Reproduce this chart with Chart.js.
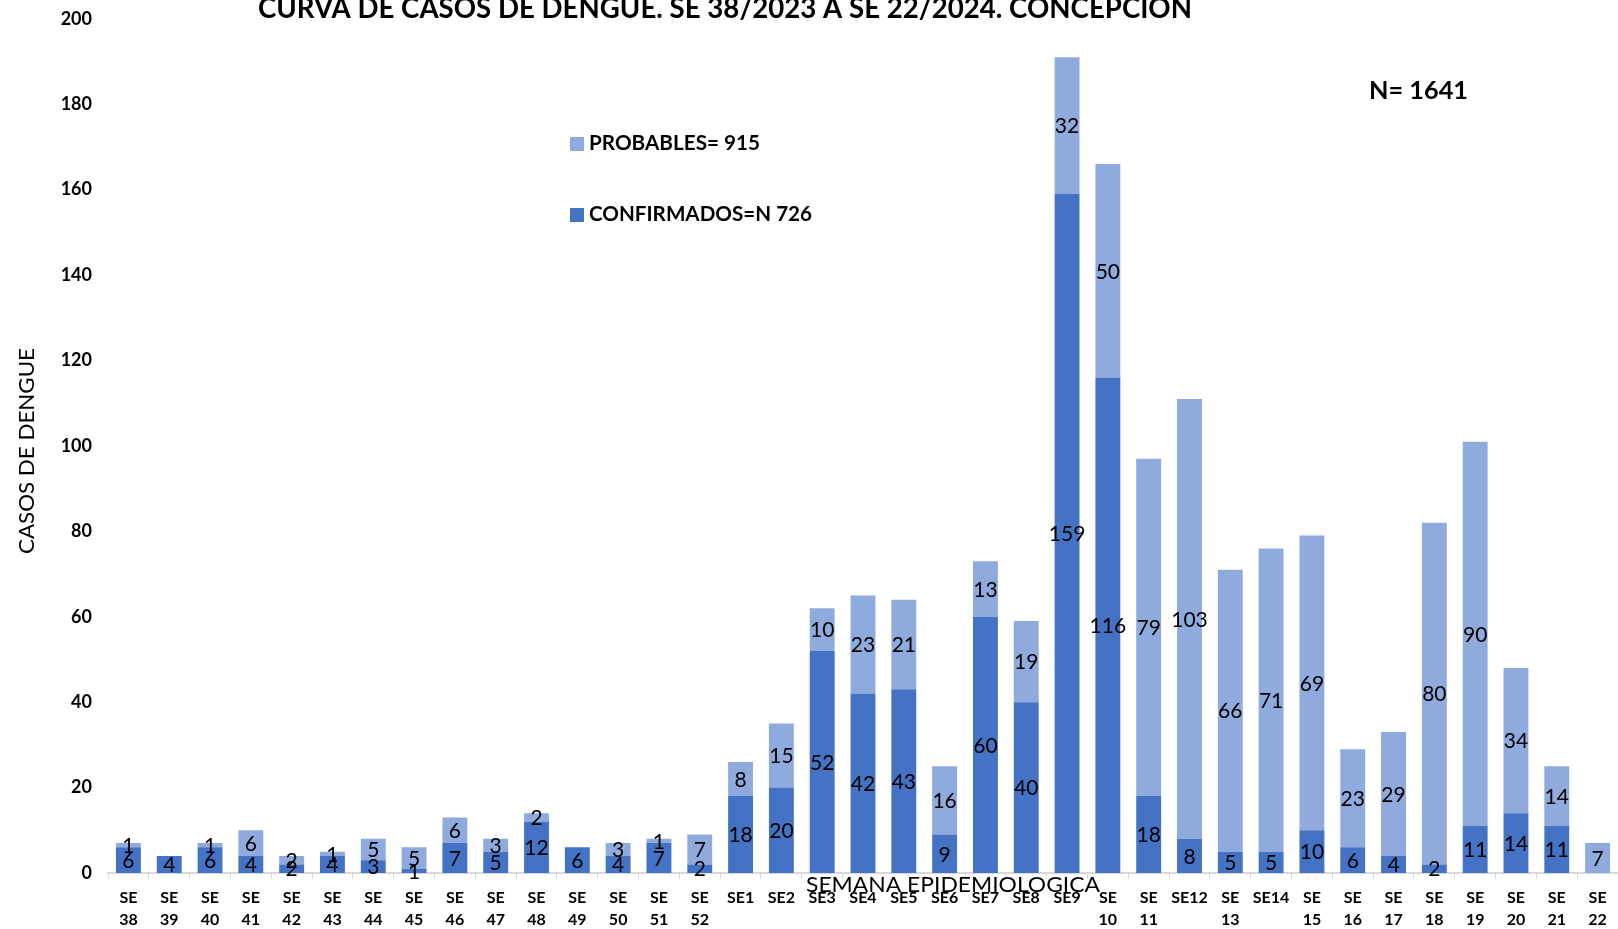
<!DOCTYPE html>
<html>
<head>
<meta charset="utf-8">
<script src="https://cdn.jsdelivr.net/npm/chart.js@4.4.1/dist/chart.umd.min.js"></script>
<style>
  html, body { margin: 0; padding: 0; background: #fff; }
  #wrap { width: 1618px; height: 929px; position: relative; }
</style>
</head>
<body>
<div id="wrap"><canvas id="chartCanvas"></canvas></div>
<script>
// semanas epidemiologicas
const categories = [
  ["SE", "38"], ["SE", "39"], ["SE", "40"], ["SE", "41"], ["SE", "42"], ["SE", "43"],
  ["SE", "44"], ["SE", "45"], ["SE", "46"], ["SE", "47"], ["SE", "48"], ["SE", "49"],
  ["SE", "50"], ["SE", "51"], ["SE", "52"],
  "SE1", "SE2", "SE3", "SE4", "SE5", "SE6", "SE7", "SE8", "SE9",
  ["SE", "10"], ["SE", "11"], "SE12", ["SE", "13"], "SE14", ["SE", "15"], ["SE", "16"],
  ["SE", "17"], ["SE", "18"], ["SE", "19"], ["SE", "20"], ["SE", "21"], ["SE", "22"]
];

const confirmados = [6, 4, 6, 4, 2, 4, 3, 1, 7, 5, 12, 6, 4, 7, 2,
  18, 20, 52, 42, 43, 9, 60, 40, 159,
  116, 18, 8, 5, 5, 10, 6, 4, 2, 11, 14, 11, 0];

const probables = [1, 0, 1, 6, 2, 1, 5, 5, 6, 3, 2, 0, 3, 1, 7,
  8, 15, 10, 23, 21, 16, 13, 19, 32,
  50, 79, 103, 66, 71, 69, 23, 29, 80, 90, 34, 14, 7];

const yTicks = [0, 20, 40, 60, 80, 100, 120, 140, 160, 180, 200];

const colConf = "#4472C4";
const colProb = "#8FAADC";
const FONT = "Lato, 'Open Sans', sans-serif";

// texto ajustado a un ancho dado
function fitText(ctx, txt, x, y, width, font, rotate, align) {
  ctx.save();
  ctx.font = font;
  const w = ctx.measureText(txt).width;
  ctx.translate(x, y);
  if (rotate) ctx.rotate(-Math.PI / 2);
  ctx.scale(width / w, 1);
  ctx.textAlign = align || "center";
  ctx.fillText(txt, 0, 0);
  ctx.restore();
}

const labelsPlugin = {
  id: "segLabels",
  afterDatasetsDraw(chart) {
    const ctx = chart.ctx;
    ctx.save();
    ctx.font = "21px " + FONT;
    ctx.fillStyle = "#000";
    ctx.textAlign = "center";
    ctx.textBaseline = "middle";
    chart.data.datasets.forEach((ds, i) => {
      const meta = chart.getDatasetMeta(i);
      meta.data.forEach((el, j) => {
        const v = ds.data[j];
        if (!v) return;
        ctx.fillText(String(v), el.x, (el.y + el.base) / 2 + 1);
      });
    });
    ctx.restore();
  }
};

const decorPlugin = {
  id: "decor",
  afterDraw(chart) {
    const ctx = chart.ctx;
    ctx.save();
    ctx.fillStyle = "#000";
    ctx.textBaseline = "alphabetic";
    // titulo (cortado arriba como en el original)
    fitText(ctx, "CURVA DE CASOS DE DENGUE. SE 38/2023 A SE 22/2024. CONCEPCION",
      725, 18, 934, "bold 29px " + FONT);
    // titulos de ejes
    ctx.textBaseline = "middle";
    fitText(ctx, "SEMANA EPIDEMIOLOGICA", 953, 885, 294, "22px " + FONT);
    fitText(ctx, "CASOS DE DENGUE", 27, 451, 206, "22px " + FONT, true);
    // N total
    fitText(ctx, "N= 1641", 1369, 91, 99, "bold 25px " + FONT, false, "left");
    // leyenda
    ctx.fillStyle = colProb;
    ctx.fillRect(570, 137, 14, 14);
    ctx.fillStyle = colConf;
    ctx.fillRect(570, 208, 14, 14);
    ctx.fillStyle = "#000";
    fitText(ctx, "PROBABLES= 915", 589, 144, 171, "bold 20px " + FONT, false, "left");
    fitText(ctx, "CONFIRMADOS=N 726", 589, 215, 223, "bold 20px " + FONT, false, "left");
    ctx.restore();
  }
};

const ctx = document.getElementById("chartCanvas").getContext("2d");
new Chart(ctx, {
  type: "bar",
  data: {
    labels: categories,
    datasets: [
      { label: "CONFIRMADOS=N 726", data: confirmados, backgroundColor: colConf,
        barPercentage: 0.61, categoryPercentage: 1 },
      { label: "PROBABLES= 915", data: probables, backgroundColor: colProb,
        barPercentage: 0.61, categoryPercentage: 1 }
    ]
  },
  options: {
    responsive: true,
    maintainAspectRatio: false,
    animation: false,
    layout: { padding: { top: 16, right: 0, left: 0, bottom: 0 } },
    plugins: {
      legend: { display: false },
      title: { display: false },
      tooltip: { enabled: false }
    },
    scales: {
      x: {
        stacked: true,
        offset: true,
        grid: { offset: true, drawOnChartArea: false, tickLength: 6, color: "#d9d9d9" },
        border: { color: "#d9d9d9", width: 2 },
        ticks: {
          maxRotation: 0, autoSkip: false, color: "#000", padding: 8,
          font: { family: FONT, size: 16, weight: "bold", lineHeight: 1.35 }
        },
        afterFit(scale) { scale.height = 56; }
      },
      y: {
        stacked: true,
        min: 0, max: 200,
        afterBuildTicks(scale) { scale.ticks = yTicks.map(v => ({ value: v })); },
        grid: { display: false },
        border: { display: false },
        ticks: {
          color: "#000", padding: 8,
          font: { family: FONT, size: 18, weight: "bold" }
        },
        afterFit(scale) { scale.width = 108; }
      }
    }
  },
  plugins: [labelsPlugin, decorPlugin]
});
</script>
</body>
</html>
